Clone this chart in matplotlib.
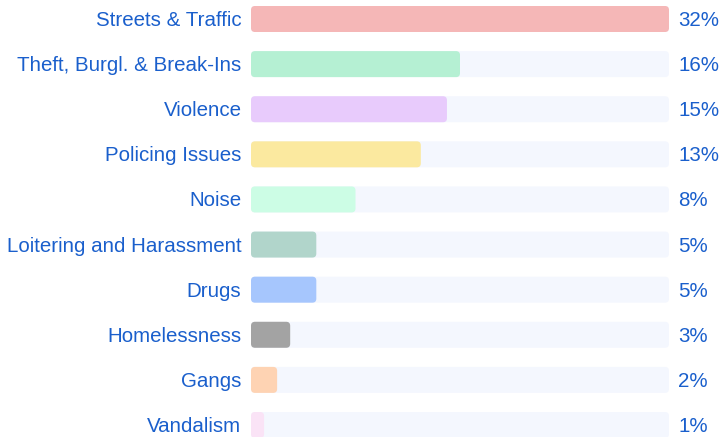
import matplotlib
matplotlib.use("Agg")
import matplotlib.pyplot as plt
from matplotlib.patches import FancyBboxPatch

categories = ["Streets & Traffic", "Theft, Burgl. & Break-Ins", "Violence", "Policing Issues",
              "Noise", "Loitering and Harassment", "Drugs", "Homelessness", "Gangs", "Vandalism"]
values = [32, 16, 15, 13, 8, 5, 5, 3, 2, 1]
bar_colors = ["#f5b7b7", "#b5f0d3", "#e8cbfc", "#fbe99f", "#ccfde5",
              "#b1d5cb", "#a6c6fd", "#a3a3a3", "#fed3b3", "#fae3f6"]
track_color = "#f4f7fe"
text_color = "#1a5fcc"

W, H = 720, 437
fig = plt.figure(figsize=(W / 100, H / 100), dpi=100)
# axes placed so bars run from x=251px to x=669px
ax = fig.add_axes([251 / W, 0, (669 - 251) / W, 1])
vmax = max(values)
row_px = (425 - 19) / 9
ax.set_xlim(0, vmax)
ax.set_ylim(9 + 12 / row_px, -19 / row_px)
ax.axis("off")

px_x = vmax / (669 - 251)      # data units per pixel, x
px_y = 1 / row_px              # data units per pixel, y
aspect = px_y / px_x
bar_h = 26 * px_y
r = 4 * px_x
dy = 1.5 * px_y                # nudge labels down a touch

for i, (cat, v, c) in enumerate(zip(categories, values, bar_colors)):
    track = FancyBboxPatch((0, i - bar_h / 2), vmax, bar_h,
                           boxstyle=f"round,pad=0,rounding_size={r}",
                           mutation_aspect=aspect, fc=track_color, ec="none")
    ax.add_patch(track)
    bar = FancyBboxPatch((0, i - bar_h / 2), v, bar_h,
                         boxstyle=f"round,pad=0,rounding_size={r}",
                         mutation_aspect=aspect, fc=c, ec="none")
    ax.add_patch(bar)
    ax.text(-9.5 * px_x, i + dy, cat, ha="right", va="center", fontsize=14.8,
            family="Liberation Sans", color=text_color, clip_on=False)
    ax.text(vmax + 9 * px_x, i + dy, f"{v}%", ha="left", va="center", fontsize=14.8,
            family="Liberation Sans", color=text_color, clip_on=False)

fig.savefig("out.png", dpi=100)
